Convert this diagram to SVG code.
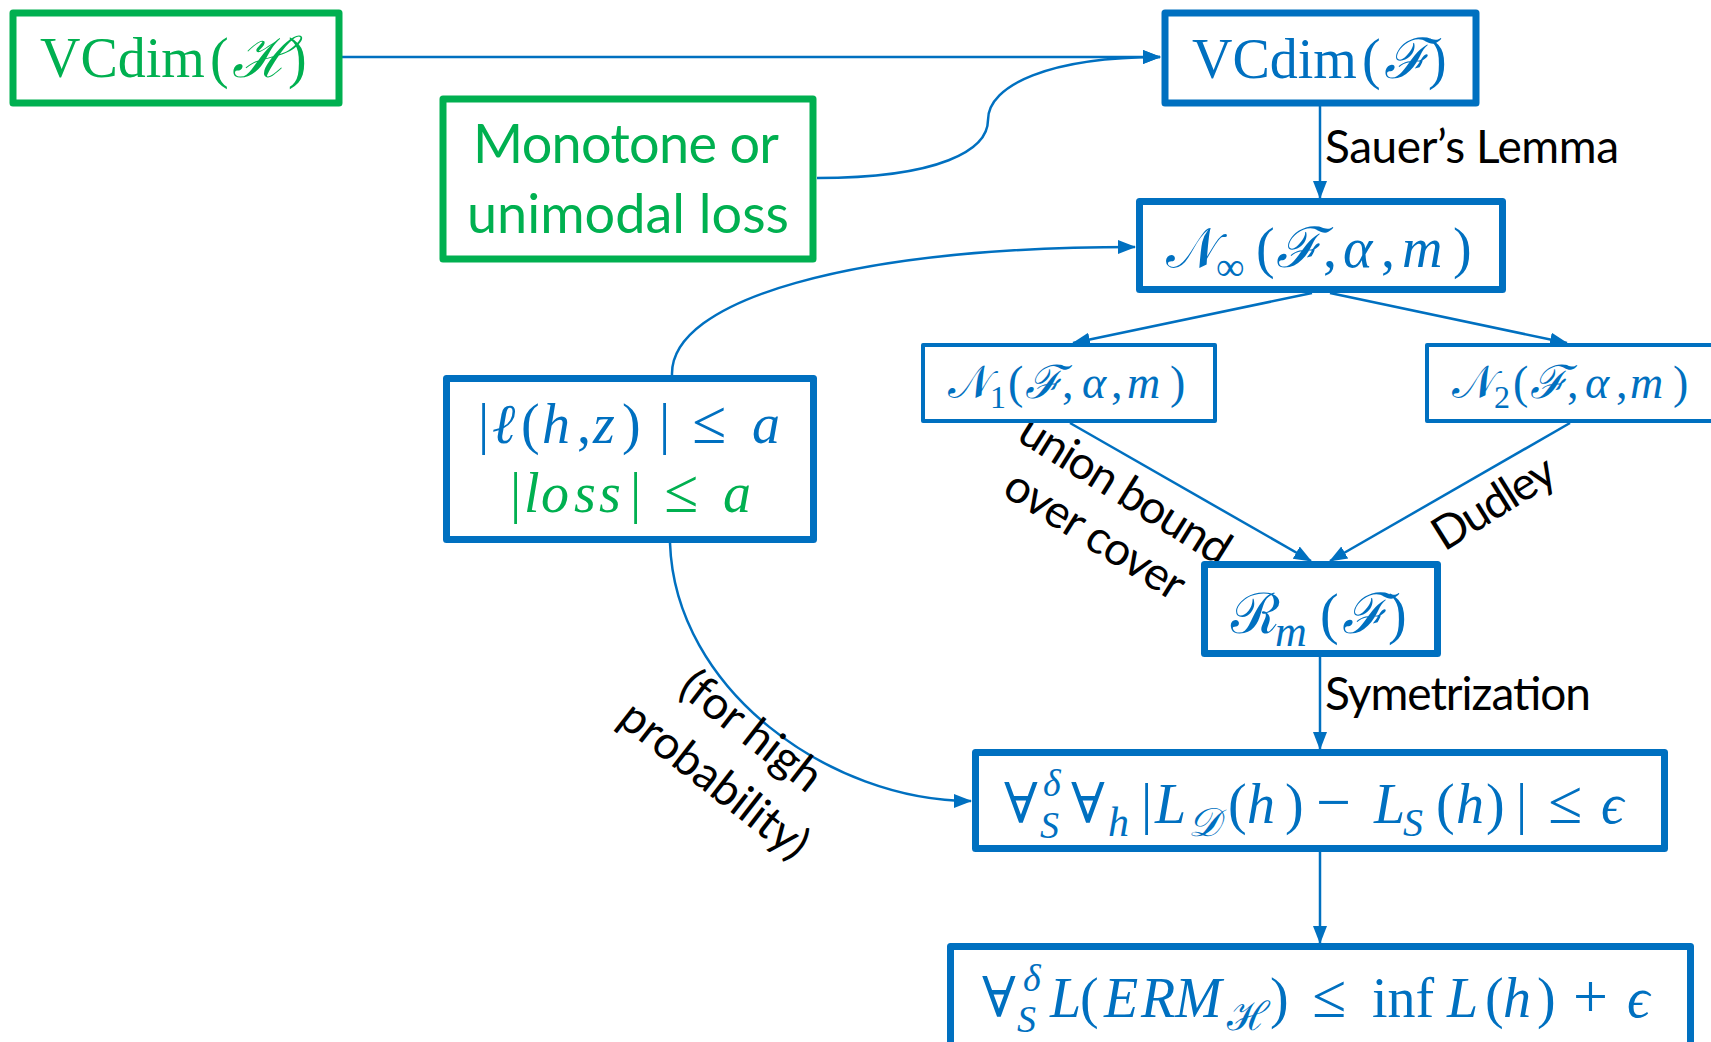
<svg xmlns="http://www.w3.org/2000/svg" width="1711" height="1042" viewBox="0 0 1711 1042">
  <style>
    .box { fill: #ffffff; stroke-width: 7; stroke-linejoin: round; }
    .thin { stroke-width: 4; }
    .blue { stroke: #0070C0; }
    .green { stroke: #00B050; }
    .m { font-family: "Liberation Serif", "DejaVu Serif", serif; fill: #0070C0; }
    .mg { fill: #00B050; }
    .it { font-style: italic; }
    .op { font-size: 62px; }
    .lbl { font-family: Lato, "Liberation Sans", sans-serif; font-size: 46px; fill: #000000; }
    .gtxt { font-family: Lato, "Liberation Sans", sans-serif; font-size: 54px; fill: #00B050; }
    .edge { fill: none; stroke: #0070C0; stroke-width: 2.5; marker-end: url(#arrow); }
  </style>
  <defs>
    <marker id="arrow" markerUnits="userSpaceOnUse" markerWidth="18" markerHeight="16" viewBox="0 0 18 16" refX="17" refY="8" orient="auto">
      <path d="M0,1 L18,8 L0,15 z" fill="#0070C0"/>
    </marker>
  </defs>
  <rect width="1711" height="1042" fill="#ffffff"/>

  <!-- connectors -->
  <g id="connectors">
    <path class="edge" d="M 342 57 L 1160 57"/>
    <path class="edge" d="M 817 178 C 940 178, 988 150, 988 120 C 988 85, 1050 57, 1160 57"/>
    <path class="edge" d="M 1320 106 L 1320 198"/>
    <path class="edge" d="M 672 375 C 670 300, 850 247, 1135 247"/>
    <path class="edge" d="M 1312 293 L 1073 343"/>
    <path class="edge" d="M 1330 293 L 1567 343"/>
    <path class="edge" d="M 1070 423 L 1311 561"/>
    <path class="edge" d="M 1570 423 L 1330 561"/>
    <path class="edge" d="M 1320 657 L 1320 749"/>
    <path class="edge" d="M 670 543 C 675 690, 830 801, 971 801"/>
    <path class="edge" d="M 1320 852 L 1320 943"/>
  </g>

  <!-- edge labels -->
  <g id="labels">
    <text class="lbl" x="1325" y="163" textLength="294" lengthAdjust="spacing">Sauer’s Lemma</text>
    <text class="lbl" x="1325" y="710" textLength="266" lengthAdjust="spacing">Symetrization</text>
    <text class="lbl" text-anchor="middle" transform="translate(1117,503) rotate(32)" textLength="240" lengthAdjust="spacing">union bound</text>
    <text class="lbl" text-anchor="middle" transform="translate(1087,548) rotate(32)" textLength="204" lengthAdjust="spacing">over cover</text>
    <text class="lbl" text-anchor="middle" transform="translate(1502,516) rotate(-32)" textLength="136" lengthAdjust="spacing">Dudley</text>
    <text class="lbl" text-anchor="middle" transform="translate(742,743) rotate(38)" textLength="166" lengthAdjust="spacing">(for high</text>
    <text class="lbl" text-anchor="middle" transform="translate(705,792) rotate(38)" textLength="226" lengthAdjust="spacing">probability)</text>
  </g>

  <!-- VCdim(H) -->
  <g id="vcdim-h">
    <rect class="box green" x="13" y="13" width="326" height="90"/>
    <text class="m mg" y="77" font-size="56"><tspan x="40">VCdim</tspan><tspan x="210">(</tspan><tspan x="232" class="it">ℋ</tspan><tspan x="288">)</tspan></text>
  </g>

  <!-- VCdim(F) -->
  <g id="vcdim-f">
    <rect class="box blue" x="1165" y="13" width="311" height="90"/>
    <text class="m" y="78" font-size="56"><tspan x="1192">VCdim</tspan><tspan x="1362">(</tspan><tspan x="1384" class="it">ℱ</tspan><tspan x="1428">)</tspan></text>
  </g>

  <!-- loss shape assumption -->
  <g id="monotone">
    <rect class="box green" x="443" y="99" width="370" height="160"/>
    <text class="gtxt" x="626" y="163" text-anchor="middle" textLength="306" lengthAdjust="spacing">Monotone or</text>
    <text class="gtxt" x="628" y="233" text-anchor="middle" textLength="322" lengthAdjust="spacing">unimodal loss</text>
  </g>

  <!-- sup-norm covering number -->
  <g id="n-inf">
    <rect class="box blue" x="1139.5" y="201.5" width="363" height="88"/>
    <text class="m" y="267" font-size="56"><tspan x="1166">𝒩</tspan><tspan x="1216" y="280" font-size="40">∞</tspan><tspan x="1256" y="267">(</tspan><tspan x="1276" class="it">ℱ</tspan><tspan x="1323">,</tspan><tspan x="1343" class="it">α</tspan><tspan x="1381">,</tspan><tspan x="1402" class="it">m</tspan><tspan x="1453">)</tspan></text>
  </g>

  <!-- L1 covering number -->
  <g id="n-1">
    <rect class="box blue thin" x="923" y="345" width="292" height="76"/>
    <text class="m" y="398" font-size="46"><tspan x="948">𝒩</tspan><tspan x="990" y="408" font-size="32">1</tspan><tspan x="1008" y="398">(</tspan><tspan x="1025" class="it">ℱ</tspan><tspan x="1062">,</tspan><tspan x="1082" class="it">α</tspan><tspan x="1111">,</tspan><tspan x="1127" class="it">m</tspan><tspan x="1170">)</tspan></text>
  </g>

  <!-- L2 covering number -->
  <g id="n-2">
    <rect class="box blue thin" x="1427" y="345" width="290" height="76"/>
    <text class="m" y="398" font-size="46"><tspan x="1452">𝒩</tspan><tspan x="1494" y="408" font-size="32">2</tspan><tspan x="1513" y="398">(</tspan><tspan x="1530" class="it">ℱ</tspan><tspan x="1567">,</tspan><tspan x="1585" class="it">α</tspan><tspan x="1616">,</tspan><tspan x="1630" class="it">m</tspan><tspan x="1673">)</tspan></text>
  </g>

  <!-- bounded loss -->
  <g id="bounded-loss">
    <rect class="box blue" x="446.5" y="378.5" width="367" height="161"/>
    <text class="m" y="443" font-size="56"><tspan x="478">|</tspan><tspan x="492" class="it">ℓ</tspan><tspan x="521">(</tspan><tspan x="542" class="it">h</tspan><tspan x="577">,</tspan><tspan x="593" class="it">z</tspan><tspan x="622">)</tspan><tspan x="659">|</tspan><tspan x="692" class="op">≤</tspan><tspan x="752" class="it">a</tspan></text>
    <text class="m mg" y="512" font-size="56"><tspan x="510">|</tspan><tspan x="524" class="it">l</tspan><tspan x="541" class="it">o</tspan><tspan x="574" class="it">s</tspan><tspan x="599" class="it">s</tspan><tspan x="630">|</tspan><tspan x="664" class="op">≤</tspan><tspan x="723" class="it">a</tspan></text>
  </g>

  <!-- Rademacher complexity -->
  <g id="rademacher">
    <rect class="box blue" x="1204.5" y="564.5" width="233" height="89"/>
    <text class="m" y="633" font-size="56"><tspan x="1231">ℛ</tspan><tspan x="1275" y="646" font-size="44" class="it">m</tspan><tspan x="1320" y="633">(</tspan><tspan x="1342" class="it">ℱ</tspan><tspan x="1388">)</tspan></text>
  </g>

  <!-- uniform convergence -->
  <g id="uniform-convergence">
    <rect class="box blue" x="975.5" y="752.5" width="689" height="96"/>
    <text class="m" y="823" font-size="56"><tspan x="1004">∀</tspan><tspan x="1043" y="796" font-size="38" class="it">δ</tspan><tspan x="1040" y="838" font-size="38" class="it">S</tspan><tspan x="1071" y="823">∀</tspan><tspan x="1108" y="836" font-size="42" class="it">h</tspan><tspan x="1141" y="823">|</tspan><tspan x="1155" class="it">L</tspan><tspan x="1188" y="836" font-size="40" class="it">𝒟</tspan><tspan x="1228" y="823">(</tspan><tspan x="1247" class="it">h</tspan><tspan x="1285">)</tspan><tspan x="1316" class="op">−</tspan><tspan x="1374" class="it">L</tspan><tspan x="1403" y="836" font-size="40" class="it">S</tspan><tspan x="1436" y="823">(</tspan><tspan x="1456" class="it">h</tspan><tspan x="1486">)</tspan><tspan x="1516">|</tspan><tspan x="1548" class="op">≤</tspan><tspan x="1601" class="it">ϵ</tspan></text>
  </g>

  <!-- ERM guarantee -->
  <g id="erm">
    <rect class="box blue" x="950.5" y="946.5" width="740" height="112"/>
    <text class="m" y="1017" font-size="56"><tspan x="982">∀</tspan><tspan x="1023" y="991" font-size="38" class="it">δ</tspan><tspan x="1017" y="1032" font-size="38" class="it">S</tspan><tspan x="1050" y="1017" class="it">L</tspan><tspan x="1080">(</tspan><tspan x="1104" class="it">E</tspan><tspan x="1141" class="it">R</tspan><tspan x="1175" class="it">M</tspan><tspan x="1227" y="1030" font-size="40">ℋ</tspan><tspan x="1270" y="1017">)</tspan><tspan x="1312" class="op">≤</tspan><tspan x="1372">inf</tspan><tspan x="1447" class="it">L</tspan><tspan x="1485">(</tspan><tspan x="1503" class="it">h</tspan><tspan x="1537">)</tspan><tspan x="1573" class="op">+</tspan><tspan x="1627" class="it">ϵ</tspan></text>
  </g>
</svg>
